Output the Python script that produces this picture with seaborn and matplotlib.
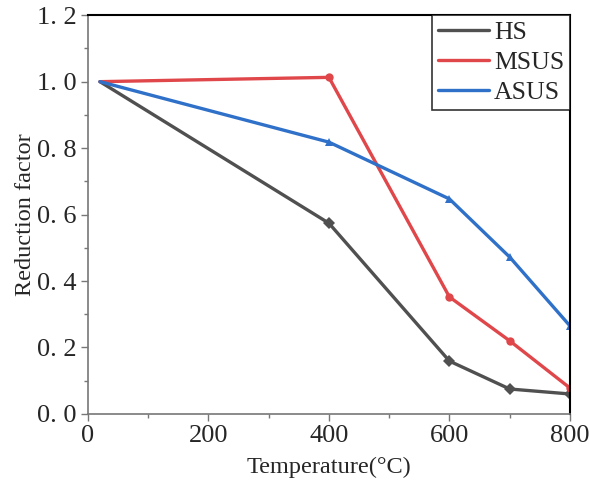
import matplotlib
matplotlib.use("Agg")
import matplotlib.pyplot as plt
import seaborn as sns
import pandas as pd
from matplotlib.ticker import MultipleLocator, FixedLocator
from matplotlib.lines import Line2D

temps = [20, 400, 600, 700, 800]
hs = [1.0, 0.574, 0.159, 0.075, 0.06]
msus = [1.0, 1.013, 0.352, 0.22, 0.078]
asus = [1.0, 0.818, 0.647, 0.472, 0.265]
series_names = ["HS", "MSUS", "ASUS"]
colors = ["#505050", "#e0474a", "#2f70c9"]
markers = ["D", "o", "^"]
yticks = [0.0, 0.2, 0.4, 0.6, 0.8, 1.0, 1.2]
ytick_labels = ["0. 0", "0. 2", "0. 4", "0. 6", "0. 8", "1. 0", "1. 2"]
xticks = [0, 200, 400, 600, 800]

df = pd.DataFrame({
    "Temperature": temps * 3,
    "Reduction factor": hs + msus + asus,
    "Series": sum([[n] * len(temps) for n in series_names], []),
})

sns.set_style("ticks")
plt.rcParams["font.family"] = ["Liberation Serif", "DejaVu Serif"]

fig = plt.figure(figsize=(5.9, 4.91), dpi=100)
ax = fig.add_axes([0.149, 0.157, 0.817, 0.812])

sns.lineplot(data=df, x="Temperature", y="Reduction factor", hue="Series",
             style="Series", palette=dict(zip(series_names, colors)),
             markers=dict(zip(series_names, markers)), dashes=False,
             markersize=6, linewidth=2.4, ax=ax, legend=False,
             markeredgewidth=0, markevery=[1, 2, 3, 4])

ax.set_xlim(0, 800)
ax.set_ylim(0, 1.2)
ax.xaxis.set_major_locator(FixedLocator(xticks))
ax.xaxis.set_minor_locator(MultipleLocator(100))
ax.yaxis.set_major_locator(FixedLocator(yticks))
ax.set_yticklabels(ytick_labels)
ax.yaxis.set_minor_locator(MultipleLocator(0.1))
ax.tick_params(axis="both", which="major", direction="out", length=5,
               width=1, labelsize=19, color="#777777", pad=3)
ax.tick_params(axis="both", which="minor", direction="out", length=3,
               width=1, color="#777777")
ax.set_xlabel("Temperature(\u00b0C)", fontsize=17.5, labelpad=7)
ax.set_ylabel("Reduction factor", fontsize=17.5, labelpad=1)

for s in ["left", "bottom"]:
    ax.spines[s].set_color("#777777")
    ax.spines[s].set_linewidth(1.2)
for s in ["top", "right"]:
    ax.spines[s].set_color("black")
    ax.spines[s].set_linewidth(1.5)

handles = [Line2D([0], [0], color=c, lw=2.4) for c in colors]
leg = ax.legend(handles, series_names, loc="upper right",
                bbox_to_anchor=(1.0, 1.0), fontsize=18.5, frameon=True,
                fancybox=False, edgecolor="black", handlelength=2.0,
                handletextpad=0.2, labelspacing=0.28, borderpad=0.22,
                borderaxespad=0)
leg.get_frame().set_linewidth(1.2)

fig.savefig("out.png", dpi=100)
